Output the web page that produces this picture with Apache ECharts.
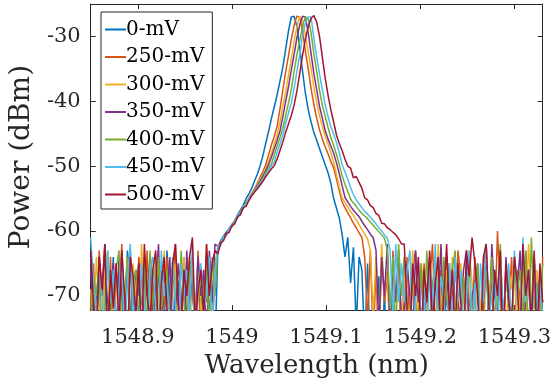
<!DOCTYPE html>
<html>
<head>
<meta charset="utf-8">
<script src="https://cdn.jsdelivr.net/npm/echarts@6/dist/echarts.min.js"></script>
<style>html,body{margin:0;padding:0;background:#fff;}#chart{width:554px;height:384px;}</style>
</head>
<body>
<div id="chart"></div>
<script>
// Wavelength sampling grid (nm): start and step
const WL_START = 1548.850;
const WL_STEP = 0.003;

const seriesNames = ['0-mV', '250-mV', '300-mV', '350-mV', '400-mV', '450-mV', '500-mV'];
const seriesColors = ['#0072BD', '#D95319', '#EDB120', '#7E2F8E', '#77AC30', '#4DBEEE', '#A2142F'];
const xTicks = [1548.9, 1549, 1549.1, 1549.2, 1549.3];
const yTicks = [-70, -60, -50, -40, -30];

// Power (dBm) per series, one value per grid sample (161 samples)
const p0 = [
  -64,-75,-70,-66,-79,-65,-71,-73,-64,-78,
  -67,-69,-76,-63,-72,-80,-66,-70,-65,-77,
  -74,-64,-69,-78,-66,-71,-75,-63,-70,-79,
  -65,-68,-76,-64,-73,-71,-66,-78,-67,-70,
  -75,-64,-72,-69,-78,
  -63.0,-61.5,-60.8,-60.2,-59.6,-59.0,-58.4,-57.5,-56.8,-56.0,
  -55.0,-54.3,-53.4,-52.3,-51.2,-49.9,-48.3,-46.4,-44.6,-42.6,
  -40.8,-39.0,-36.9,-34.8,-32.0,-29.2,-27.0,-26.9,-28.5,-31.8,
  -35.4,-38.8,-41.3,-43.2,-44.8,-46.0,-47.3,-48.5,-49.8,-51.0,
  -52.6,-55.0,-56.5,-58.0,-60.5,-64.0,-61.0,-68.0,-62.5,-75.0,
  -64.0,-66.0,-78.0,-65.0,-80.0,-70.0,-78.0,-67.0,-82.0,-69.0,
  -85,-84,-86,-85,-87,-85,
  -84,-86,-85,-88,-84,-86,-85,-87,-84,-86,
  -85,-87,-84,-86,-88,-85,-84,-86,-87,-85,
  -84,-86,-85,-88,-84,-86,-85,-87,-84,-86,
  -86,-84,-87,-85,-84,-88,-86,-85,-84,-87,
  -84,-86,-85,-88,-84,-86,-85,-87,-84,-86
];
const p250 = [
  -72,-65,-77,-63,-70,-68,-75,-64,-79,-66,
  -71,-62,-74,-76,-65,-70,-78,-64,-67,-73,
  -63,-77,-70,-65,-79,-66,-72,-64,-75,-69,
  -62,-76,-71,-66,-78,-64,-70,-74,-63,-77,
  -67,-71,-64,-76,-66,
  -62.8,-61.8,-61.0,-60.4,-59.8,-59.2,-58.6,-57.8,-57.0,-56.3,
  -55.6,-55.0,-54.2,-53.5,-52.6,-51.7,-50.8,-49.7,-48.2,-46.7,
  -45.4,-43.8,-41.2,-38.3,-35.5,-33.0,-30.5,-28.3,-26.9,-27.0,
  -29.2,-32.3,-35.0,-38.0,-40.5,-42.6,-44.4,-45.8,-47.0,-48.1,
  -49.3,-50.3,-52.0,-53.8,-55.5,-56.4,-57.2,-58.0,-58.8,-59.5,
  -60.3,-61.0,-64.0,-74.0,-63.0,-77.0,-66.0,-79.0,-64.0,-71.0,
  -67,-75,-63,-70,-66,-78,
  -70,-64,-77,-66,-63,-73,-79,-65,-71,-68,
  -62,-75,-70,-66,-78,-64,-72,-69,-76,-63,
  -67,-79,-65,-71,-74,-64,-70,-77,-66,-62,
  -73,-68,-75,-60,-70,-78,-65,-72,-64,-76,
  -66,-71,-79,-63,-69,-74,-65,-70,-77,-64
];
const p300 = [
  -69,-76,-64,-71,-78,-66,-63,-74,-70,-65,
  -77,-67,-72,-64,-79,-65,-70,-75,-62,-73,
  -68,-66,-78,-64,-71,-76,-63,-70,-74,-67,
  -65,-79,-72,-64,-70,-77,-66,-73,-65,-71,
  -78,-62,-69,-75,-65,
  -63.0,-62.0,-61.2,-60.5,-59.8,-59.3,-58.5,-57.9,-57.2,-56.5,
  -55.8,-55.0,-54.3,-53.6,-52.8,-52.0,-51.2,-50.3,-49.3,-48.0,
  -46.6,-45.2,-43.2,-40.8,-38.6,-36.0,-33.5,-30.8,-28.5,-26.9,
  -27.6,-29.8,-32.4,-34.9,-37.8,-40.2,-42.2,-43.9,-45.4,-46.6,
  -47.9,-49.4,-51.3,-53.2,-54.9,-55.6,-56.3,-57.0,-57.6,-58.3,
  -59.0,-59.8,-60.5,-61.2,-63.0,-73.0,-64.0,-76.0,-62.0,-70.0,
  -66,-78,-64,-71,-65,-74,
  -66,-75,-71,-63,-78,-69,-65,-72,-76,-64,
  -70,-79,-62,-73,-67,-66,-77,-64,-71,-74,
  -65,-70,-78,-63,-68,-75,-66,-72,-79,-64,
  -71,-65,-76,-70,-63,-73,-78,-66,-69,-64,
  -77,-71,-65,-74,-62,-70,-79,-66,-72,-68
];
const p350 = [
  -66,-73,-78,-64,-70,-62,-76,-71,-65,-79,
  -64,-70,-74,-66,-63,-77,-72,-65,-78,-67,
  -70,-64,-75,-69,-62,-78,-66,-71,-64,-76,
  -73,-65,-70,-79,-63,-72,-67,-75,-64,-70,
  -66,-77,-63,-71,-62,
  -62.4,-61.6,-61.3,-60.2,-60.0,-59.0,-58.7,-57.6,-57.3,-56.2,
  -55.9,-55.1,-54.4,-53.7,-53.0,-52.3,-51.5,-50.7,-49.7,-48.6,
  -47.3,-46.0,-44.6,-42.4,-40.1,-37.8,-35.2,-32.8,-30.2,-28.2,
  -26.9,-27.0,-29.4,-32.6,-35.7,-38.2,-40.8,-42.6,-44.5,-45.8,
  -46.9,-48.0,-49.5,-51.2,-53.0,-54.8,-55.5,-56.2,-56.8,-57.3,
  -57.8,-58.5,-59.2,-59.8,-60.5,-61.0,-63.0,-75.0,-64.0,-70.0,
  -62,-77,-65,-71,-63,-74,
  -73,-65,-70,-78,-63,-71,-66,-76,-69,-64,
  -79,-67,-72,-62,-75,-70,-65,-78,-64,-71,
  -74,-66,-63,-77,-70,-68,-65,-79,-72,-64,
  -76,-62,-70,-73,-66,-78,-64,-71,-75,-65,
  -69,-63,-77,-70,-66,-74,-64,-79,-67,-71
];
const p400 = [
  -74,-67,-70,-65,-77,-72,-64,-69,-78,-66,
  -63,-75,-70,-64,-79,-68,-66,-73,-71,-65,
  -77,-63,-70,-76,-64,-72,-69,-66,-78,-65,
  -71,-74,-63,-70,-77,-66,-64,-79,-70,-67,
  -73,-65,-76,-64,-70,
  -62.9,-61.8,-61.0,-60.6,-59.6,-59.4,-58.3,-58.0,-57.0,-56.6,
  -55.6,-55.2,-54.4,-53.8,-53.2,-52.5,-51.8,-51.0,-50.3,-49.6,
  -48.3,-46.9,-45.6,-44.2,-42.2,-40.3,-38.2,-35.4,-32.8,-30.6,
  -28.4,-27.0,-27.2,-29.4,-32.7,-35.4,-38.3,-40.6,-42.3,-44.0,
  -45.6,-46.8,-48.2,-49.8,-51.5,-52.8,-53.9,-55.1,-55.7,-56.2,
  -56.8,-57.3,-57.7,-58.1,-58.6,-59.1,-59.6,-60.1,-60.6,-61.1,
  -63,-72,-64,-76,-62,-70,
  -64,-71,-76,-66,-70,-79,-65,-73,-63,-77,
  -68,-65,-72,-78,-64,-70,-75,-66,-63,-74,
  -79,-67,-71,-64,-76,-70,-65,-78,-69,-66,
  -73,-64,-77,-70,-62,-75,-67,-71,-79,-65,
  -70,-66,-74,-63,-78,-61,-72,-68,-76,-65
];
const p450 = [
  -61,-68,-74,-65,-70,-79,-63,-71,-66,-76,
  -69,-64,-78,-67,-62,-73,-70,-75,-65,-71,
  -79,-66,-64,-72,-77,-63,-70,-68,-75,-64,
  -71,-78,-65,-70,-66,-74,-62,-77,-69,-65,
  -72,-70,-64,-76,-66,
  -62.2,-62.3,-60.9,-60.8,-59.5,-59.1,-58.8,-57.4,-57.4,-56.1,
  -56.0,-55.0,-54.5,-53.9,-53.3,-52.7,-52.0,-51.3,-50.6,-49.9,
  -49.4,-47.8,-46.6,-45.2,-43.5,-41.8,-40.3,-38.0,-35.4,-32.9,
  -29.8,-28.0,-27.0,-27.0,-30.3,-33.2,-35.8,-38.2,-40.5,-42.3,
  -43.9,-45.1,-46.4,-47.9,-49.8,-50.9,-52.0,-53.3,-54.4,-55.2,
  -55.8,-56.4,-57.0,-57.4,-57.9,-58.4,-58.9,-59.5,-60.0,-60.6,
  -61.1,-63,-74,-62,-71,-65,
  -71,-66,-63,-78,-70,-65,-74,-69,-79,-64,
  -72,-62,-76,-67,-70,-78,-65,-73,-64,-71,
  -66,-77,-70,-63,-75,-68,-79,-65,-71,-62,
  -74,-70,-66,-78,-64,-72,-69,-65,-77,-63,
  -70,-75,-61,-71,-66,-79,-64,-72,-67,-73
];
const p500 = [
  -63,-71,-76,-64,-69,-62,-78,-66,-72,-65,
  -75,-63,-70,-79,-64,-67,-73,-65,-77,-62,
  -70,-74,-66,-63,-78,-68,-64,-72,-76,-65,
  -62,-71,-77,-66,-70,-64,-61,-75,-69,-66,
  -73,-62,-70,-65,-63,
  -63.5,-61.9,-61.5,-60.4,-60.2,-59.2,-58.9,-57.8,-57.5,-56.4,
  -56.2,-55.3,-54.6,-54.0,-53.5,-52.9,-52.3,-51.6,-51.0,-50.4,
  -49.9,-48.9,-47.6,-46.3,-44.8,-43.5,-42.2,-40.6,-38.4,-35.7,
  -32.9,-30.4,-28.5,-27.2,-26.8,-27.8,-30.0,-33.2,-36.4,-39.0,
  -41.3,-43.2,-45.2,-46.5,-47.6,-48.9,-50.0,-50.3,-51.8,-51.6,
  -52.5,-53.4,-54.9,-55.2,-56.1,-56.4,-57.3,-57.6,-58.8,-58.9,
  -59.5,-59.8,-60.2,-60.6,-61.2,-62.0,
  -62,-72,-77,-65,-70,-64,-79,-66,-71,-63,
  -75,-68,-64,-78,-70,-62,-73,-66,-76,-65,
  -71,-79,-63,-67,-61,-65,-70,-78,-64,-62,
  -72,-76,-66,-70,-63,-79,-65,-71,-74,-64,
  -68,-77,-62,-70,-66,-75,-63,-78,-65,-71
];

const powers = [p0, p250, p300, p350, p400, p450, p500];

function toPairs(arr) {
  return arr.map((v, i) => [+(WL_START + WL_STEP * i).toFixed(3), v]);
}

const FONT = 'DejaVu Serif';
const AXC = '#262626';

const chart = echarts.init(document.getElementById('chart'), null, {renderer: 'canvas'});
const option = {
  animation: false,
  backgroundColor: '#fff',
  grid: {left: 88, right: 5, top: 4, bottom: 71},
  legend: {
    orient: 'vertical',
    left: 101, top: 12,
    data: seriesNames,
    selectedMode: false,
    icon: 'rect',
    backgroundColor: '#fff',
    borderColor: AXC, borderWidth: 1,
    padding: [7.5, 8, 4.5, 4],
    itemWidth: 21, itemHeight: 2, itemGap: 7.5,
    textStyle: {fontFamily: FONT, fontSize: 20, color: '#000', lineHeight: 20, padding: [0, 0, 0, -5]}
  },
  xAxis: [{
    type: 'value', min: 1548.85, max: 1549.33, position: 'bottom',
    name: 'Wavelength (nm)', nameLocation: 'middle', nameGap: 52,
    nameTextStyle: {fontFamily: FONT, fontSize: 26, color: AXC, verticalAlign: 'middle'},
    axisLine: {show: true, onZero: false, lineStyle: {color: AXC, width: 1}},
    axisTick: {show: true, inside: true, length: 5, customValues: xTicks, lineStyle: {color: AXC}},
    axisLabel: {customValues: xTicks, fontFamily: FONT, fontSize: 21, color: AXC, margin: 17,
      formatter: v => String(v)},
    splitLine: {show: false}
  }, {
    type: 'value', min: 1548.85, max: 1549.33, position: 'top',
    axisLine: {show: true, onZero: false, lineStyle: {color: AXC, width: 1}},
    axisTick: {show: true, inside: true, length: 5, customValues: xTicks, lineStyle: {color: AXC}},
    axisLabel: {show: false},
    splitLine: {show: false}
  }],
  yAxis: [{
    type: 'value', min: -72.2, max: -25, position: 'left',
    name: 'Power (dBm)', nameLocation: 'middle', nameGap: 62,
    nameTextStyle: {fontFamily: FONT, fontSize: 28, color: AXC, verticalAlign: 'middle'},
    axisLine: {show: true, onZero: false, lineStyle: {color: AXC, width: 1}},
    axisTick: {show: true, inside: true, length: 5, customValues: yTicks, lineStyle: {color: AXC}},
    axisLabel: {customValues: yTicks, fontFamily: FONT, fontSize: 21, color: AXC, margin: 10},
    splitLine: {show: false}
  }, {
    type: 'value', min: -72.2, max: -25, position: 'right',
    axisLine: {show: true, onZero: false, lineStyle: {color: AXC, width: 1}},
    axisTick: {show: true, inside: true, length: 5, customValues: yTicks, lineStyle: {color: AXC}},
    axisLabel: {show: false},
    splitLine: {show: false}
  }],
  series: powers.map((arr, k) => ({
    name: seriesNames[k],
    type: 'line',
    xAxisIndex: 0, yAxisIndex: 0,
    data: toPairs(arr),
    symbol: 'none',
    clip: true,
    sampling: null,
    color: seriesColors[k],
    lineStyle: {color: seriesColors[k], width: 1.5},
    emphasis: {disabled: true}
  }))
};
chart.setOption(option);
</script>
</body>
</html>
